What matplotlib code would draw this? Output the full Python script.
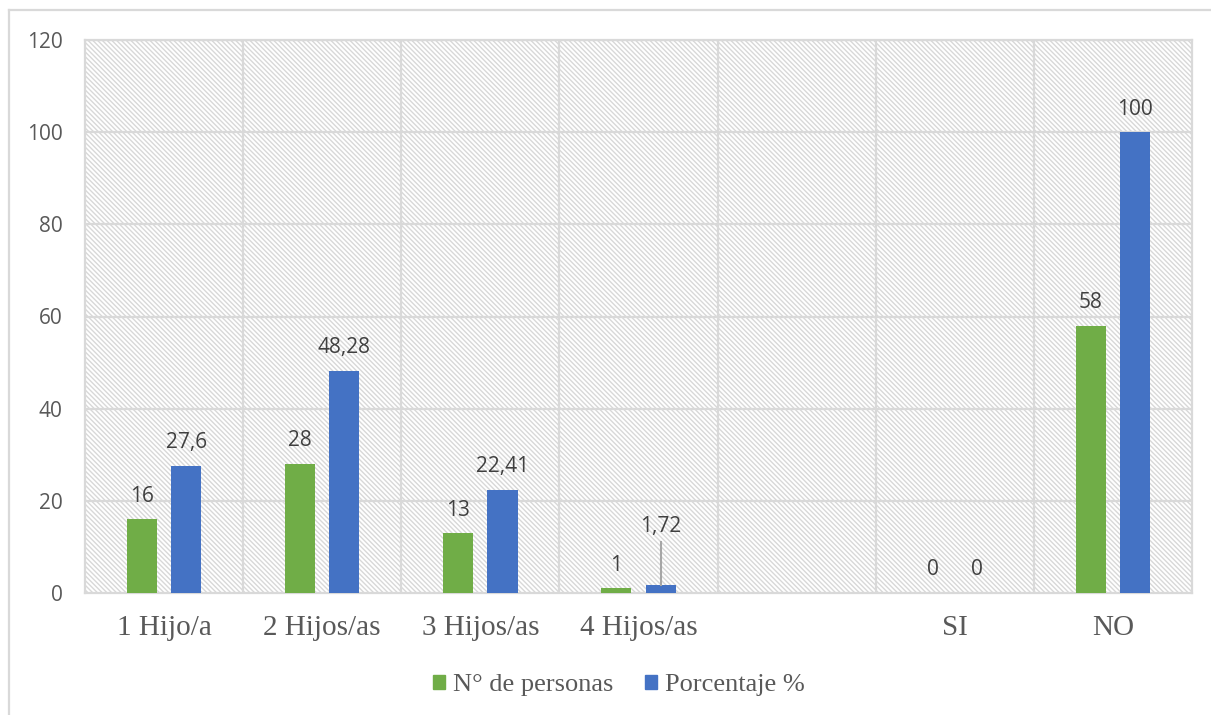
import matplotlib
matplotlib.use("Agg")
import matplotlib.pyplot as plt
from matplotlib.patches import Patch
from matplotlib.lines import Line2D
import numpy as np

categories = ["1 Hijo/a", "2 Hijos/as", "3 Hijos/as", "4 Hijos/as", "", "SI", "NO"]
personas = [16, 28, 13, 1, None, 0, 58]
porcentaje = [27.6, 48.28, 22.41, 1.72, None, 0, 100]
personas_labels = ["16", "28", "13", "1", "", "0", "58"]
porcentaje_labels = ["27,6", "48,28", "22,41", "1,72", "", "0", "100"]
yticks = [0, 20, 40, 60, 80, 100, 120]

GREEN = "#70AD47"
BLUE = "#4472C4"
GRID = "#D9D9D9"
TEXT = "#595959"

plt.rcParams["hatch.linewidth"] = 1.0

fig = plt.figure(figsize=(12.11, 7.15), dpi=100)
ax = fig.add_axes([85 / 1211, 1 - 593 / 715, (1192 - 85) / 1211, (593 - 40) / 715])

# hatched plot background
ax.set_facecolor("white")
bg = plt.Rectangle((0, 0), 1, 1, transform=ax.transAxes, facecolor="white",
                   edgecolor="#D8D8D8", hatch="\\\\\\\\\\\\\\", linewidth=0, zorder=0)
ax.add_patch(bg)

x = np.arange(len(categories))
w = 0.19
off = 0.14
for i in range(len(categories)):
    if personas[i] is None:
        continue
    ax.bar(x[i] - off, personas[i], w, color=GREEN, zorder=3)
    ax.bar(x[i] + off, porcentaje[i], w, color=BLUE, zorder=3)

# data labels
lab_font = dict(family="Open Sans", size=15, color="#404040")
for i in range(len(categories)):
    if personas[i] is None:
        continue
    ax.text(x[i] - off, personas[i] + 3.8, personas_labels[i], ha="center", va="baseline", **lab_font)
    if porcentaje_labels[i] == "1,72":
        ax.text(x[i] + off, 13.2, porcentaje_labels[i], ha="center", va="baseline", **lab_font)
        ax.plot([x[i] + off, x[i] + off], [porcentaje[i], 11.0], color="#A6A6A6", lw=1.5, zorder=4)
    else:
        ax.text(x[i] + off, porcentaje[i] + 3.8, porcentaje_labels[i], ha="center", va="baseline", **lab_font)

ax.set_xlim(-0.5, len(categories) - 0.5)
ax.set_ylim(0, 120)
ax.set_yticks(yticks)
ax.set_yticklabels([str(t) for t in yticks], family="Open Sans", fontsize=15, color=TEXT)
ax.set_xticks(x)
ax.set_xticklabels(categories, family="Liberation Serif", fontsize=21, color=TEXT)
ax.tick_params(axis="both", length=0)
ax.tick_params(axis="y", pad=16)
ax.tick_params(axis="x", pad=16)

# gridlines: horizontal at ticks, vertical at category boundaries
for t in yticks[1:]:
    ax.axhline(t, color=GRID, lw=1.6, zorder=1)
for b in np.arange(0.5, len(categories) - 0.5, 1):
    ax.axvline(b, color=GRID, lw=1.6, zorder=1)
for s in ax.spines.values():
    s.set_color(GRID)
    s.set_linewidth(1.6)

handles = [Patch(color=GREEN, label="N° de personas"), Patch(color=BLUE, label="Porcentaje %")]
fig.legend(handles=handles, loc="center", bbox_to_anchor=(619 / 1211, 1 - 685 / 715), ncol=2,
           frameon=False, prop=dict(family="Liberation Serif", size=19),
           handlelength=0.45, handleheight=0.45, handletextpad=0.3, columnspacing=1.2,
           labelcolor=TEXT)

# outer chart border
fig.add_artist(Line2D([9 / 1211, 1], [1 - 10 / 715, 1 - 10 / 715], color=GRID, lw=1.6, transform=fig.transFigure))
fig.add_artist(Line2D([9 / 1211, 9 / 1211], [0, 1 - 10 / 715], color=GRID, lw=1.6, transform=fig.transFigure))

fig.savefig("out.png", dpi=100)
